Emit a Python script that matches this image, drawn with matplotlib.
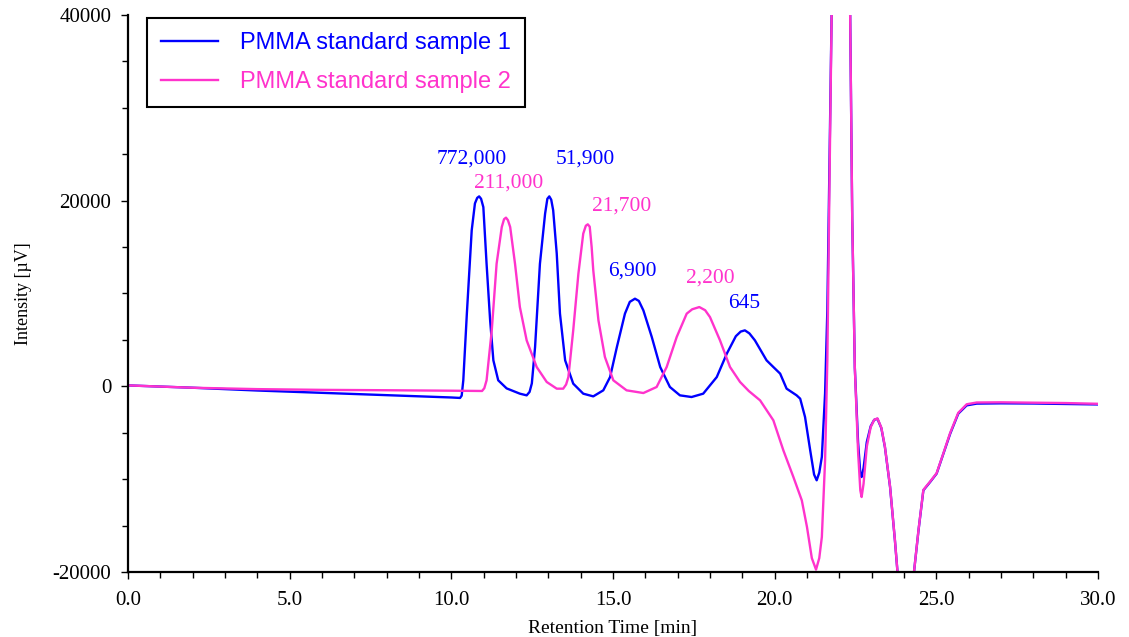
import matplotlib
matplotlib.use("Agg")
import matplotlib.pyplot as plt
from matplotlib.ticker import MultipleLocator, FormatStrFormatter

# retention time [min] / intensity [uV]
t1 = [0.0, 2.0, 4.0, 6.0, 8.0, 10.0, 10.27, 10.32, 10.37, 10.48, 10.63, 10.73, 10.80,
      10.86, 10.92, 10.99, 11.09, 11.20, 11.30, 11.45, 11.71, 12.12, 12.33, 12.42,
      12.49, 12.59, 12.74, 12.90, 12.97, 13.03, 13.09, 13.15, 13.26, 13.36, 13.52,
      13.77, 14.08, 14.39, 14.70, 14.91, 15.12, 15.37, 15.52, 15.68, 15.80, 15.94,
      16.20, 16.46, 16.76, 17.07, 17.43, 17.79, 18.21, 18.52, 18.80, 18.95, 19.08,
      19.22, 19.39, 19.75, 19.96, 20.17, 20.37, 20.68, 20.79, 20.94, 21.10, 21.22,
      21.30, 21.38, 21.46, 21.56, 21.63, 21.70, 21.77, 22.05, 22.33, 22.40, 22.48,
      22.58, 22.65, 22.69, 22.75, 22.85, 22.97, 23.08, 23.18, 23.30, 23.41, 23.57,
      23.72, 23.80, 24.05, 24.31, 24.45, 24.60, 24.81, 25.01, 25.22, 25.43, 25.68,
      25.94, 26.25, 27.0, 28.0, 29.0, 30.0]
s1 = [100, -150, -450, -700, -950, -1200, -1250, -1000, 650, 7830, 16800, 19700, 20300,
      20460, 20200, 19300, 13200, 7100, 2800, 650, -220, -790, -970, -600,
      320, 4230, 13200, 18600, 20200, 20460, 20100, 18960, 14300, 7830, 2800,
      290, -790, -1080, -430, 1000, 4230, 7830, 9100, 9440, 9200, 8180,
      5310, 2080, -70, -970, -1150, -790, 1000, 3520, 5400, 5900, 6030,
      5700, 4950, 2800, 2080, 1370, -250, -970, -1330, -3300, -6900, -9500,
      -10120, -9300, -7600, -750, 8200, 25000, 42000, 80000, 42000, 18000, 2000,
      -6000, -9400, -9770, -8800, -6000, -4300, -3600, -3500, -4500, -6530, -10840,
      -16590, -20000, -30000, -20000, -15500, -11200, -10300, -9400, -7250, -5100, -2940,
      -2050, -1860, -1830, -1850, -1900, -1950]

t2 = [0.0, 2.0, 4.0, 6.0, 8.0, 10.0, 10.95, 11.02, 11.09, 11.25, 11.40, 11.56, 11.63,
      11.69, 11.75, 11.82, 11.97, 12.12, 12.33, 12.64, 12.95, 13.26, 13.46, 13.55,
      13.62, 13.77, 13.93, 14.08, 14.16, 14.22, 14.28, 14.34, 14.39, 14.55, 14.75,
      15.01, 15.42, 15.94, 16.35, 16.66, 16.97, 17.28, 17.45, 17.67, 17.85, 18.00,
      18.31, 18.62, 18.93, 19.20, 19.55, 19.96, 20.27, 20.58, 20.84, 21.00, 21.15,
      21.28, 21.38, 21.46, 21.56, 21.63, 21.70, 21.77, 22.05, 22.33, 22.40, 22.48,
      22.58, 22.65, 22.69, 22.75, 22.85, 22.97, 23.08, 23.18, 23.30, 23.41, 23.57,
      23.72, 23.80, 24.05, 24.31, 24.45, 24.60, 24.81, 25.01, 25.22, 25.43, 25.68,
      25.94, 26.25, 27.0, 28.0, 29.0, 30.0]
s2 = [100, -150, -300, -380, -420, -470, -500, -200, 650, 6030, 13200, 17160, 18000,
      18170, 17900, 17160, 13200, 8540, 4950, 2080, 470, -250, -250, 200,
      1000, 6030, 12140, 16450, 17300, 17450, 17200, 15000, 12500, 7100, 3160,
      650, -430, -720, -70, 2080, 5310, 7830, 8300, 8540, 8200, 7460,
      4950, 2080, 470, -500, -1510, -3660, -6900, -9770, -12280, -15150, -18500,
      -19740, -18500, -16230, -7970, 2800, 23000, 42000, 80000, 42000, 18000, 2000,
      -7000, -11200, -11920, -10500, -6500, -4400, -3600, -3450, -4450, -6480, -10800,
      -16550, -20000, -30000, -20000, -15450, -11150, -10250, -9350, -7200, -5000, -2850,
      -1930, -1740, -1720, -1760, -1800, -1880]

# molecular weight labels: text, time, intensity, series
peak_labels = ["772,000", "51,900", "6,900", "645", "211,000", "21,700", "2,200"]
label_t = [10.64, 14.13, 15.59, 19.05, 11.78, 15.28, 18.0]
label_v = [24530, 24530, 12390, 8940, 21860, 19390, 11630]
label_series = [1, 1, 1, 1, 2, 2, 2]

names = ["PMMA standard sample 1", "PMMA standard sample 2"]
blue = "#0000FF"
pink = "#FF33CC"

plt.rcParams["axes.unicode_minus"] = False

fig = plt.figure(figsize=(11.29, 6.37), dpi=100)
ax = fig.add_axes([0.1134, 0.102, 0.8591, 0.8745])

ax.plot(t1, s1, color=blue, lw=1.7, label=names[0])
ax.plot(t2, s2, color=pink, lw=1.7, label=names[1])

for txt, x, y, k in zip(peak_labels, label_t, label_v, label_series):
    ax.text(x, y, txt, color=blue if k == 1 else pink, ha="center", va="center",
            fontsize=15.5, family="Liberation Serif")

ax.set_xlim(0, 30)
ax.set_ylim(-20000, 40000)
ax.xaxis.set_major_locator(MultipleLocator(5))
ax.xaxis.set_minor_locator(MultipleLocator(1))
ax.xaxis.set_major_formatter(FormatStrFormatter("%.1f"))
ax.yaxis.set_major_locator(MultipleLocator(20000))
ax.yaxis.set_minor_locator(MultipleLocator(5000))

for side in ["top", "right"]:
    ax.spines[side].set_visible(False)
for side in ["left", "bottom"]:
    ax.spines[side].set_linewidth(1.6)

ax.tick_params(which="both", direction="out", width=1, labelsize=15)
ax.tick_params(which="major", length=5)
ax.tick_params(which="minor", length=4)
ax.tick_params(axis="y", which="both", pad=7)
ax.tick_params(axis="x", which="both", pad=9)
for lab in ax.get_xticklabels() + ax.get_yticklabels():
    lab.set_family("Liberation Serif")

ax.set_xlabel("Retention Time [min]", family="Liberation Serif", fontsize=14, labelpad=7)
ax.set_ylabel("Intensity [µV]", family="Liberation Serif", fontsize=13, labelpad=15)

leg = ax.legend(loc="upper left", bbox_to_anchor=(0.0196, 0.995), borderaxespad=0,
                prop={"family": "Liberation Sans", "size": 17}, fancybox=False,
                edgecolor="black", framealpha=1, handlelength=2.4, handletextpad=0.95,
                labelspacing=0.72, borderpad=0.6)
leg.get_frame().set_linewidth(1.5)
for txt, c in zip(leg.get_texts(), [blue, pink]):
    txt.set_color(c)

fig.savefig("out.png", dpi=100)
